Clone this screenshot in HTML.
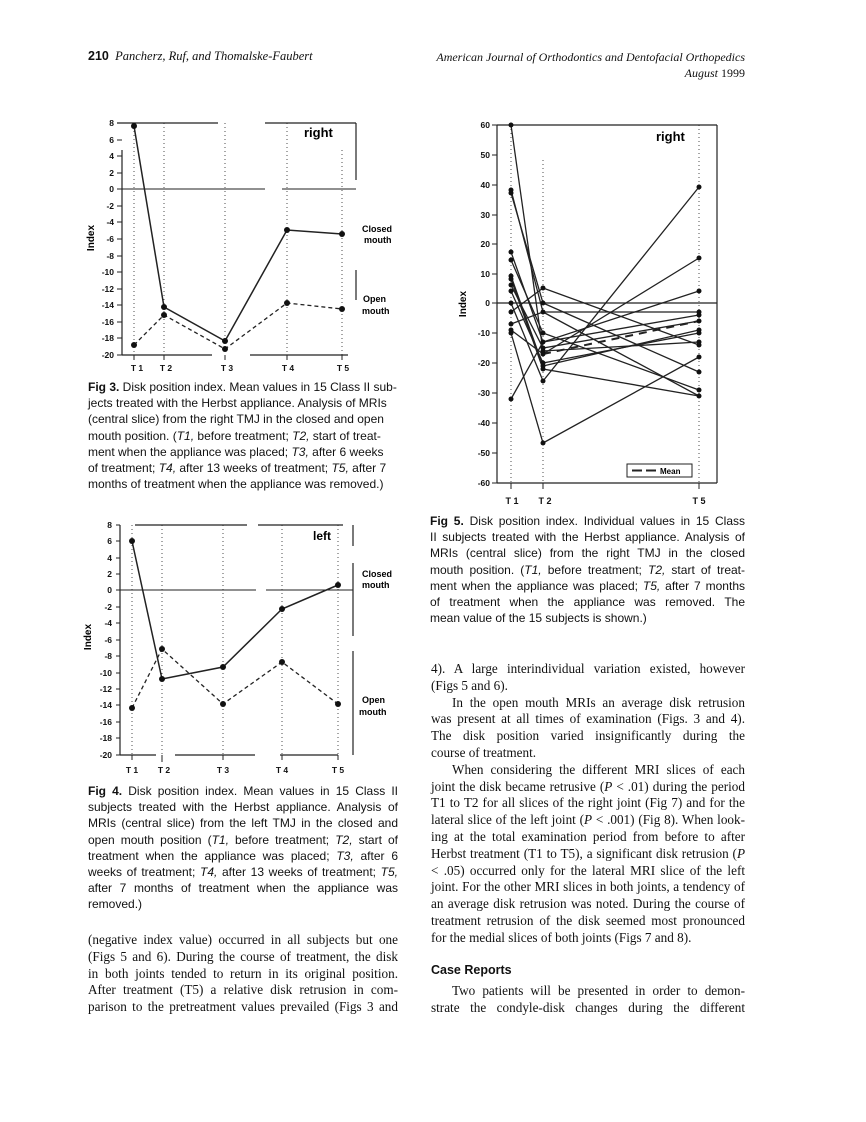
<!DOCTYPE html>
<html><head><meta charset="utf-8">
<style>
body{margin:0;background:#fff;}
#p{position:relative;width:866px;height:1122px;overflow:hidden;background:#fff;color:#111;}
.a{position:absolute;white-space:nowrap;}
.j{position:absolute;text-align:justify;text-align-last:justify;white-space:nowrap;overflow:visible;}
.cap{font-family:"Liberation Sans",sans-serif;font-size:12px;line-height:16.2px;}
.ser{font-family:"Liberation Serif",serif;font-size:13.2px;}
svg text{font-family:"Liberation Sans",sans-serif;font-weight:bold;}
</style></head><body><div id="p">

<div class="a" style="left:88px;top:49px;font-family:'Liberation Serif',serif;font-size:12.5px;"><b style="font-family:'Liberation Sans',sans-serif;">210</b>&nbsp; <i>Pancherz, Ruf, and Thomalske-Faubert</i></div>
<div class="a" style="right:121px;top:49px;font-family:'Liberation Serif',serif;font-size:12px;text-align:right;line-height:16px;"><i>American Journal of Orthodontics and Dentofacial Orthopedics</i><br><i>August</i> 1999</div>

<svg class="a" style="left:0;top:0" width="866" height="1122" viewBox="0 0 866 1122">
<g stroke="#222" fill="none">
<line x1="117" y1="123" x2="218" y2="123" stroke-width="1.2"/>
<line x1="265" y1="123" x2="356" y2="123" stroke-width="1.2"/>
<line x1="356" y1="123" x2="356" y2="180" stroke-width="1.2"/>
<line x1="356" y1="270" x2="356" y2="300" stroke-width="1.2"/>
<line x1="122" y1="150" x2="122" y2="355" stroke-width="1.2"/>
<line x1="122" y1="189" x2="265" y2="189" stroke-width="1"/>
<line x1="282" y1="189" x2="356" y2="189" stroke-width="1"/>
<line x1="122" y1="355" x2="212" y2="355" stroke-width="1.2"/>
<line x1="250" y1="355" x2="348" y2="355" stroke-width="1.2"/>
<g stroke-dasharray="1,3" stroke-width="0.8">
<line x1="134" y1="123" x2="134" y2="355"/><line x1="164" y1="123" x2="164" y2="355"/><line x1="225" y1="123" x2="225" y2="355"/><line x1="287" y1="123" x2="287" y2="355"/><line x1="342" y1="150" x2="342" y2="355"/>
</g>
<g stroke-width="1">
<line x1="117" y1="123" x2="122" y2="123"/><line x1="117" y1="140" x2="122" y2="140"/><line x1="117" y1="156" x2="122" y2="156"/><line x1="117" y1="173" x2="122" y2="173"/><line x1="117" y1="189" x2="122" y2="189"/><line x1="117" y1="206" x2="122" y2="206"/><line x1="117" y1="222" x2="122" y2="222"/><line x1="117" y1="239" x2="122" y2="239"/><line x1="117" y1="256" x2="122" y2="256"/><line x1="117" y1="272" x2="122" y2="272"/><line x1="117" y1="289" x2="122" y2="289"/><line x1="117" y1="305" x2="122" y2="305"/><line x1="117" y1="322" x2="122" y2="322"/><line x1="117" y1="338" x2="122" y2="338"/><line x1="117" y1="355" x2="122" y2="355"/>
<line x1="134" y1="355" x2="134" y2="360"/><line x1="164" y1="355" x2="164" y2="360"/><line x1="225" y1="355" x2="225" y2="360"/><line x1="287" y1="355" x2="287" y2="360"/><line x1="342" y1="355" x2="342" y2="360"/>
</g>
<polyline points="134,126 164,307 225,341 287,230 342,234" stroke-width="1.5"/>
<polyline points="134,345 164,315 225,349 287,303 342,309" stroke-width="1.3" stroke-dasharray="4,3"/>
</g>
<g fill="#111">
<circle cx="134" cy="126" r="3"/><circle cx="164" cy="307" r="3"/><circle cx="225" cy="341" r="3"/><circle cx="287" cy="230" r="3"/><circle cx="342" cy="234" r="3"/>
<circle cx="134" cy="345" r="3"/><circle cx="164" cy="315" r="3"/><circle cx="225" cy="349" r="3"/><circle cx="287" cy="303" r="3"/><circle cx="342" cy="309" r="3"/>
</g>
<g font-size="8.5" text-anchor="end" fill="#111">
<text x="114" y="126">8</text><text x="114" y="143">6</text><text x="114" y="159">4</text><text x="114" y="176">2</text><text x="114" y="192">0</text><text x="114" y="209">-2</text><text x="114" y="225">-4</text><text x="114" y="242">-6</text><text x="114" y="259">-8</text><text x="114" y="275">-10</text><text x="114" y="292">-12</text><text x="114" y="308">-14</text><text x="114" y="325">-16</text><text x="114" y="341">-18</text><text x="114" y="358">-20</text>
</g>
<g font-size="8.5" text-anchor="middle" fill="#111">
<text x="137" y="371">T 1</text><text x="166" y="371">T 2</text><text x="227" y="371">T 3</text><text x="288" y="371">T 4</text><text x="343" y="371">T 5</text>
</g>
<text x="94" y="238" font-size="10" transform="rotate(-90 94 238)" text-anchor="middle">Index</text>
<text x="304" y="137" font-size="13">right</text>
<text x="362" y="232" font-size="9">Closed</text><text x="364" y="243" font-size="9">mouth</text>
<text x="363" y="302" font-size="9">Open</text><text x="362" y="314" font-size="9">mouth</text>

<g stroke="#222" fill="none">
<line x1="135" y1="525" x2="247" y2="525" stroke-width="1.2"/>
<line x1="258" y1="525" x2="343" y2="525" stroke-width="1.2"/>
<line x1="353" y1="525" x2="353" y2="546" stroke-width="1.2"/>
<line x1="353" y1="563" x2="353" y2="636" stroke-width="1.2"/>
<line x1="353" y1="651" x2="353" y2="755" stroke-width="1.2"/>
<line x1="120" y1="525" x2="120" y2="755" stroke-width="1.2"/>
<line x1="120" y1="590" x2="256" y2="590" stroke-width="1"/>
<line x1="266" y1="590" x2="353" y2="590" stroke-width="1"/>
<line x1="120" y1="755" x2="156" y2="755" stroke-width="1.2"/>
<line x1="175" y1="755" x2="255" y2="755" stroke-width="1.2"/>
<line x1="280" y1="755" x2="338" y2="755" stroke-width="1.2"/>
<g stroke-dasharray="1,3" stroke-width="0.8">
<line x1="132" y1="525" x2="132" y2="755"/><line x1="162" y1="525" x2="162" y2="755"/><line x1="223" y1="525" x2="223" y2="755"/><line x1="282" y1="525" x2="282" y2="755"/><line x1="338" y1="525" x2="338" y2="755"/>
</g>
<g stroke-width="1">
<line x1="116" y1="525" x2="120" y2="525"/><line x1="116" y1="541" x2="120" y2="541"/><line x1="116" y1="558" x2="120" y2="558"/><line x1="116" y1="574" x2="120" y2="574"/><line x1="116" y1="590" x2="120" y2="590"/><line x1="116" y1="607" x2="120" y2="607"/><line x1="116" y1="623" x2="120" y2="623"/><line x1="116" y1="640" x2="120" y2="640"/><line x1="116" y1="656" x2="120" y2="656"/><line x1="116" y1="673" x2="120" y2="673"/><line x1="116" y1="689" x2="120" y2="689"/><line x1="116" y1="705" x2="120" y2="705"/><line x1="116" y1="722" x2="120" y2="722"/><line x1="116" y1="738" x2="120" y2="738"/><line x1="116" y1="755" x2="120" y2="755"/>
<line x1="132" y1="755" x2="132" y2="760"/><line x1="162" y1="755" x2="162" y2="762"/><line x1="223" y1="755" x2="223" y2="760"/><line x1="282" y1="755" x2="282" y2="760"/><line x1="338" y1="755" x2="338" y2="760"/>
</g>
<polyline points="132,541 162,679 223,667 282,609 338,585" stroke-width="1.5"/>
<polyline points="132,708 162,649 223,704 282,662 338,704" stroke-width="1.3" stroke-dasharray="4,3"/>
</g>
<g fill="#111">
<circle cx="132" cy="541" r="3"/><circle cx="162" cy="679" r="3"/><circle cx="223" cy="667" r="3"/><circle cx="282" cy="609" r="3"/><circle cx="338" cy="585" r="3"/>
<circle cx="132" cy="708" r="3"/><circle cx="162" cy="649" r="3"/><circle cx="223" cy="704" r="3"/><circle cx="282" cy="662" r="3"/><circle cx="338" cy="704" r="3"/>
</g>
<g font-size="8.5" text-anchor="end" fill="#111">
<text x="112" y="528">8</text><text x="112" y="544">6</text><text x="112" y="561">4</text><text x="112" y="577">2</text><text x="112" y="593">0</text><text x="112" y="610">-2</text><text x="112" y="626">-4</text><text x="112" y="643">-6</text><text x="112" y="659">-8</text><text x="112" y="676">-10</text><text x="112" y="692">-12</text><text x="112" y="708">-14</text><text x="112" y="725">-16</text><text x="112" y="741">-18</text><text x="112" y="758">-20</text>
</g>
<g font-size="8.5" text-anchor="middle" fill="#111">
<text x="132" y="773">T 1</text><text x="164" y="773">T 2</text><text x="223" y="773">T 3</text><text x="282" y="773">T 4</text><text x="338" y="773">T 5</text>
</g>
<text x="91" y="637" font-size="10" transform="rotate(-90 91 637)" text-anchor="middle">Index</text>
<text x="313" y="540" font-size="12">left</text>
<text x="362" y="577" font-size="9">Closed</text><text x="362" y="588" font-size="9">mouth</text>
<text x="362" y="703" font-size="9">Open</text><text x="359" y="715" font-size="9">mouth</text>

<g stroke="#222" fill="none">
<line x1="497" y1="125" x2="717" y2="125" stroke-width="1.2"/>
<line x1="717" y1="125" x2="717" y2="483" stroke-width="1.2"/>
<line x1="497" y1="125" x2="497" y2="483" stroke-width="1.2"/>
<line x1="497" y1="483" x2="717" y2="483" stroke-width="1.2"/>
<line x1="497" y1="303" x2="717" y2="303" stroke-width="1.3"/>
<g stroke-dasharray="1,3" stroke-width="0.8">
<line x1="511" y1="125" x2="511" y2="483"/><line x1="543" y1="160" x2="543" y2="483"/><line x1="699" y1="125" x2="699" y2="483"/>
</g>
<g stroke-width="1">
<line x1="492" y1="125" x2="497" y2="125"/><line x1="492" y1="155" x2="497" y2="155"/><line x1="492" y1="185" x2="497" y2="185"/><line x1="492" y1="215" x2="497" y2="215"/><line x1="492" y1="244" x2="497" y2="244"/><line x1="492" y1="274" x2="497" y2="274"/><line x1="492" y1="303" x2="497" y2="303"/><line x1="492" y1="333" x2="497" y2="333"/><line x1="492" y1="363" x2="497" y2="363"/><line x1="492" y1="393" x2="497" y2="393"/><line x1="492" y1="423" x2="497" y2="423"/><line x1="492" y1="453" x2="497" y2="453"/><line x1="492" y1="483" x2="497" y2="483"/>
<line x1="511" y1="483" x2="511" y2="489"/><line x1="543" y1="483" x2="543" y2="489"/><line x1="699" y1="483" x2="699" y2="489"/>
</g>
<g stroke-width="1.3">
<polyline points="511,125 543,351 699,342"/>
<polyline points="511,190 543,312 699,396"/>
<polyline points="511,193 543,303 699,372"/>
<polyline points="511,252 543,342 699,315"/>
<polyline points="511,260 543,333 699,390"/>
<polyline points="511,276 543,366 699,330"/>
<polyline points="511,279 543,369 699,396"/>
<polyline points="511,285 543,348 699,321"/>
<polyline points="511,291 543,363 699,333"/>
<polyline points="511,303 543,381 699,187"/>
<polyline points="511,312 543,288 699,345"/>
<polyline points="511,324 543,312 699,312"/>
<polyline points="511,330 543,354 699,258"/>
<polyline points="511,333 543,443 699,357"/>
<polyline points="511,399 543,342 699,291"/>
</g>
<polyline points="543,354 699,321" stroke-width="2" stroke-dasharray="8,6"/>
<rect x="627" y="464" width="65" height="13" stroke-width="1"/>
<line x1="632" y1="470.5" x2="642" y2="470.5" stroke-width="2"/>
<line x1="646" y1="470.5" x2="656" y2="470.5" stroke-width="2"/>
</g>
<g fill="#111">
<circle cx="511" cy="125" r="2.5"/><circle cx="511" cy="190" r="2.5"/><circle cx="511" cy="193" r="2.5"/><circle cx="511" cy="252" r="2.5"/><circle cx="511" cy="260" r="2.5"/><circle cx="511" cy="276" r="2.5"/><circle cx="511" cy="279" r="2.5"/><circle cx="511" cy="285" r="2.5"/><circle cx="511" cy="291" r="2.5"/><circle cx="511" cy="303" r="2.5"/><circle cx="511" cy="312" r="2.5"/><circle cx="511" cy="324" r="2.5"/><circle cx="511" cy="330" r="2.5"/><circle cx="511" cy="333" r="2.5"/><circle cx="511" cy="399" r="2.5"/>
<circle cx="543" cy="351" r="2.5"/><circle cx="543" cy="312" r="2.5"/><circle cx="543" cy="303" r="2.5"/><circle cx="543" cy="342" r="2.5"/><circle cx="543" cy="333" r="2.5"/><circle cx="543" cy="366" r="2.5"/><circle cx="543" cy="369" r="2.5"/><circle cx="543" cy="348" r="2.5"/><circle cx="543" cy="363" r="2.5"/><circle cx="543" cy="381" r="2.5"/><circle cx="543" cy="288" r="2.5"/><circle cx="543" cy="354" r="2.5"/><circle cx="543" cy="443" r="2.5"/>
<circle cx="699" cy="342" r="2.5"/><circle cx="699" cy="396" r="2.5"/><circle cx="699" cy="372" r="2.5"/><circle cx="699" cy="315" r="2.5"/><circle cx="699" cy="390" r="2.5"/><circle cx="699" cy="330" r="2.5"/><circle cx="699" cy="321" r="2.5"/><circle cx="699" cy="333" r="2.5"/><circle cx="699" cy="187" r="2.5"/><circle cx="699" cy="345" r="2.5"/><circle cx="699" cy="312" r="2.5"/><circle cx="699" cy="258" r="2.5"/><circle cx="699" cy="357" r="2.5"/><circle cx="699" cy="291" r="2.5"/>
</g>
<g font-size="8.5" text-anchor="end" fill="#111">
<text x="490" y="128">60</text><text x="490" y="158">50</text><text x="490" y="188">40</text><text x="490" y="218">30</text><text x="490" y="247">20</text><text x="490" y="277">10</text><text x="490" y="306">0</text><text x="490" y="336">-10</text><text x="490" y="366">-20</text><text x="490" y="396">-30</text><text x="490" y="426">-40</text><text x="490" y="456">-50</text><text x="490" y="486">-60</text>
</g>
<g font-size="9" text-anchor="middle" fill="#111">
<text x="512" y="504">T 1</text><text x="545" y="504">T 2</text><text x="699" y="504">T 5</text>
</g>
<text x="466" y="304" font-size="10" transform="rotate(-90 466 304)" text-anchor="middle">Index</text>
<text x="656" y="141" font-size="13">right</text>
<text x="660" y="474" font-size="8">Mean</text>
</svg>

<div class="cap a" style="left:88px;top:379px;">
<div><b>Fig 3.</b> Disk position index. Mean values in 15 Class II sub-</div>
<div>jects treated with the Herbst appliance. Analysis of MRIs</div>
<div>(central slice) from the right TMJ in the closed and open</div>
<div>mouth position. (<i>T1,</i> before treatment; <i>T2,</i> start of treat-</div>
<div>ment when the appliance was placed; <i>T3,</i> after 6 weeks</div>
<div>of treatment; <i>T4,</i> after 13 weeks of treatment; <i>T5,</i> after 7</div>
<div>months of treatment when the appliance was removed.)</div>
</div>

<div class="cap a" style="left:88px;top:783px;width:310px;">
<div class="j" style="position:static;"><b>Fig 4.</b> Disk position index. Mean values in 15 Class II</div>
<div class="j" style="position:static;">subjects treated with the Herbst appliance. Analysis of</div>
<div class="j" style="position:static;">MRIs (central slice) from the left TMJ in the closed and</div>
<div class="j" style="position:static;">open mouth position (<i>T1,</i> before treatment; <i>T2,</i> start of</div>
<div class="j" style="position:static;">treatment when the appliance was placed; <i>T3,</i> after 6</div>
<div class="j" style="position:static;">weeks of treatment; <i>T4,</i> after 13 weeks of treatment; <i>T5,</i></div>
<div class="j" style="position:static;">after 7 months of treatment when the appliance was</div>
<div>removed.)</div>
</div>

<div class="cap a" style="left:430px;top:513px;width:315px;">
<div class="j" style="position:static;"><b>Fig 5.</b> Disk position index. Individual values in 15 Class</div>
<div class="j" style="position:static;">II subjects treated with the Herbst appliance. Analysis of</div>
<div class="j" style="position:static;">MRIs (central slice) from the right TMJ in the closed</div>
<div class="j" style="position:static;">mouth position. (<i>T1,</i> before treatment; <i>T2,</i> start of treat-</div>
<div class="j" style="position:static;">ment when the appliance was placed; <i>T5,</i> after 7 months</div>
<div class="j" style="position:static;">of treatment when the appliance was removed. The</div>
<div>mean value of the 15 subjects is shown.)</div>
</div>

<div class="ser a" style="left:88px;top:932px;width:310px;line-height:16.8px;">
<div class="j" style="position:static;">(negative index value) occurred in all subjects but one</div>
<div class="j" style="position:static;">(Figs 5 and 6). During the course of treatment, the disk</div>
<div class="j" style="position:static;">in both joints tended to return in its original position.</div>
<div class="j" style="position:static;">After treatment (T5) a relative disk retrusion in com-</div>
<div class="j" style="position:static;">parison to the pretreatment values prevailed (Figs 3 and</div>
</div>

<div class="ser a" style="left:431px;top:661px;width:314px;line-height:16.8px;">
<div class="j" style="position:static;">4). A large interindividual variation existed, however</div>
<div>(Figs 5 and 6).</div>
<div class="j" style="position:static;padding-left:21px;">In the open mouth MRIs an average disk retrusion</div>
<div class="j" style="position:static;">was present at all times of examination (Figs. 3 and 4).</div>
<div class="j" style="position:static;">The disk position varied insignificantly during the</div>
<div>course of treatment.</div>
<div class="j" style="position:static;padding-left:21px;">When considering the different MRI slices of each</div>
<div class="j" style="position:static;">joint the disk became retrusive (<i>P</i> &lt; .01) during the period</div>
<div class="j" style="position:static;">T1 to T2 for all slices of the right joint (Fig 7) and for the</div>
<div class="j" style="position:static;">lateral slice of the left joint (<i>P</i> &lt; .001) (Fig 8). When look-</div>
<div class="j" style="position:static;">ing at the total examination period from before to after</div>
<div class="j" style="position:static;">Herbst treatment (T1 to T5), a significant disk retrusion (<i>P</i></div>
<div class="j" style="position:static;">&lt; .05) occurred only for the lateral MRI slice of the left</div>
<div class="j" style="position:static;">joint. For the other MRI slices in both joints, a tendency of</div>
<div class="j" style="position:static;">an average disk retrusion was noted. During the course of</div>
<div class="j" style="position:static;">treatment retrusion of the disk seemed most pronounced</div>
<div>for the medial slices of both joints (Figs 7 and 8).</div>
</div>
<div class="a" style="left:431px;top:963px;font-family:'Liberation Sans',sans-serif;font-weight:bold;font-size:12.5px;">Case Reports</div>
<div class="ser a" style="left:431px;top:983px;width:314px;line-height:16.8px;">
<div class="j" style="position:static;padding-left:21px;">Two patients will be presented in order to demon-</div>
<div class="j" style="position:static;">strate the condyle-disk changes during the different</div>
</div>

</div></body></html>
